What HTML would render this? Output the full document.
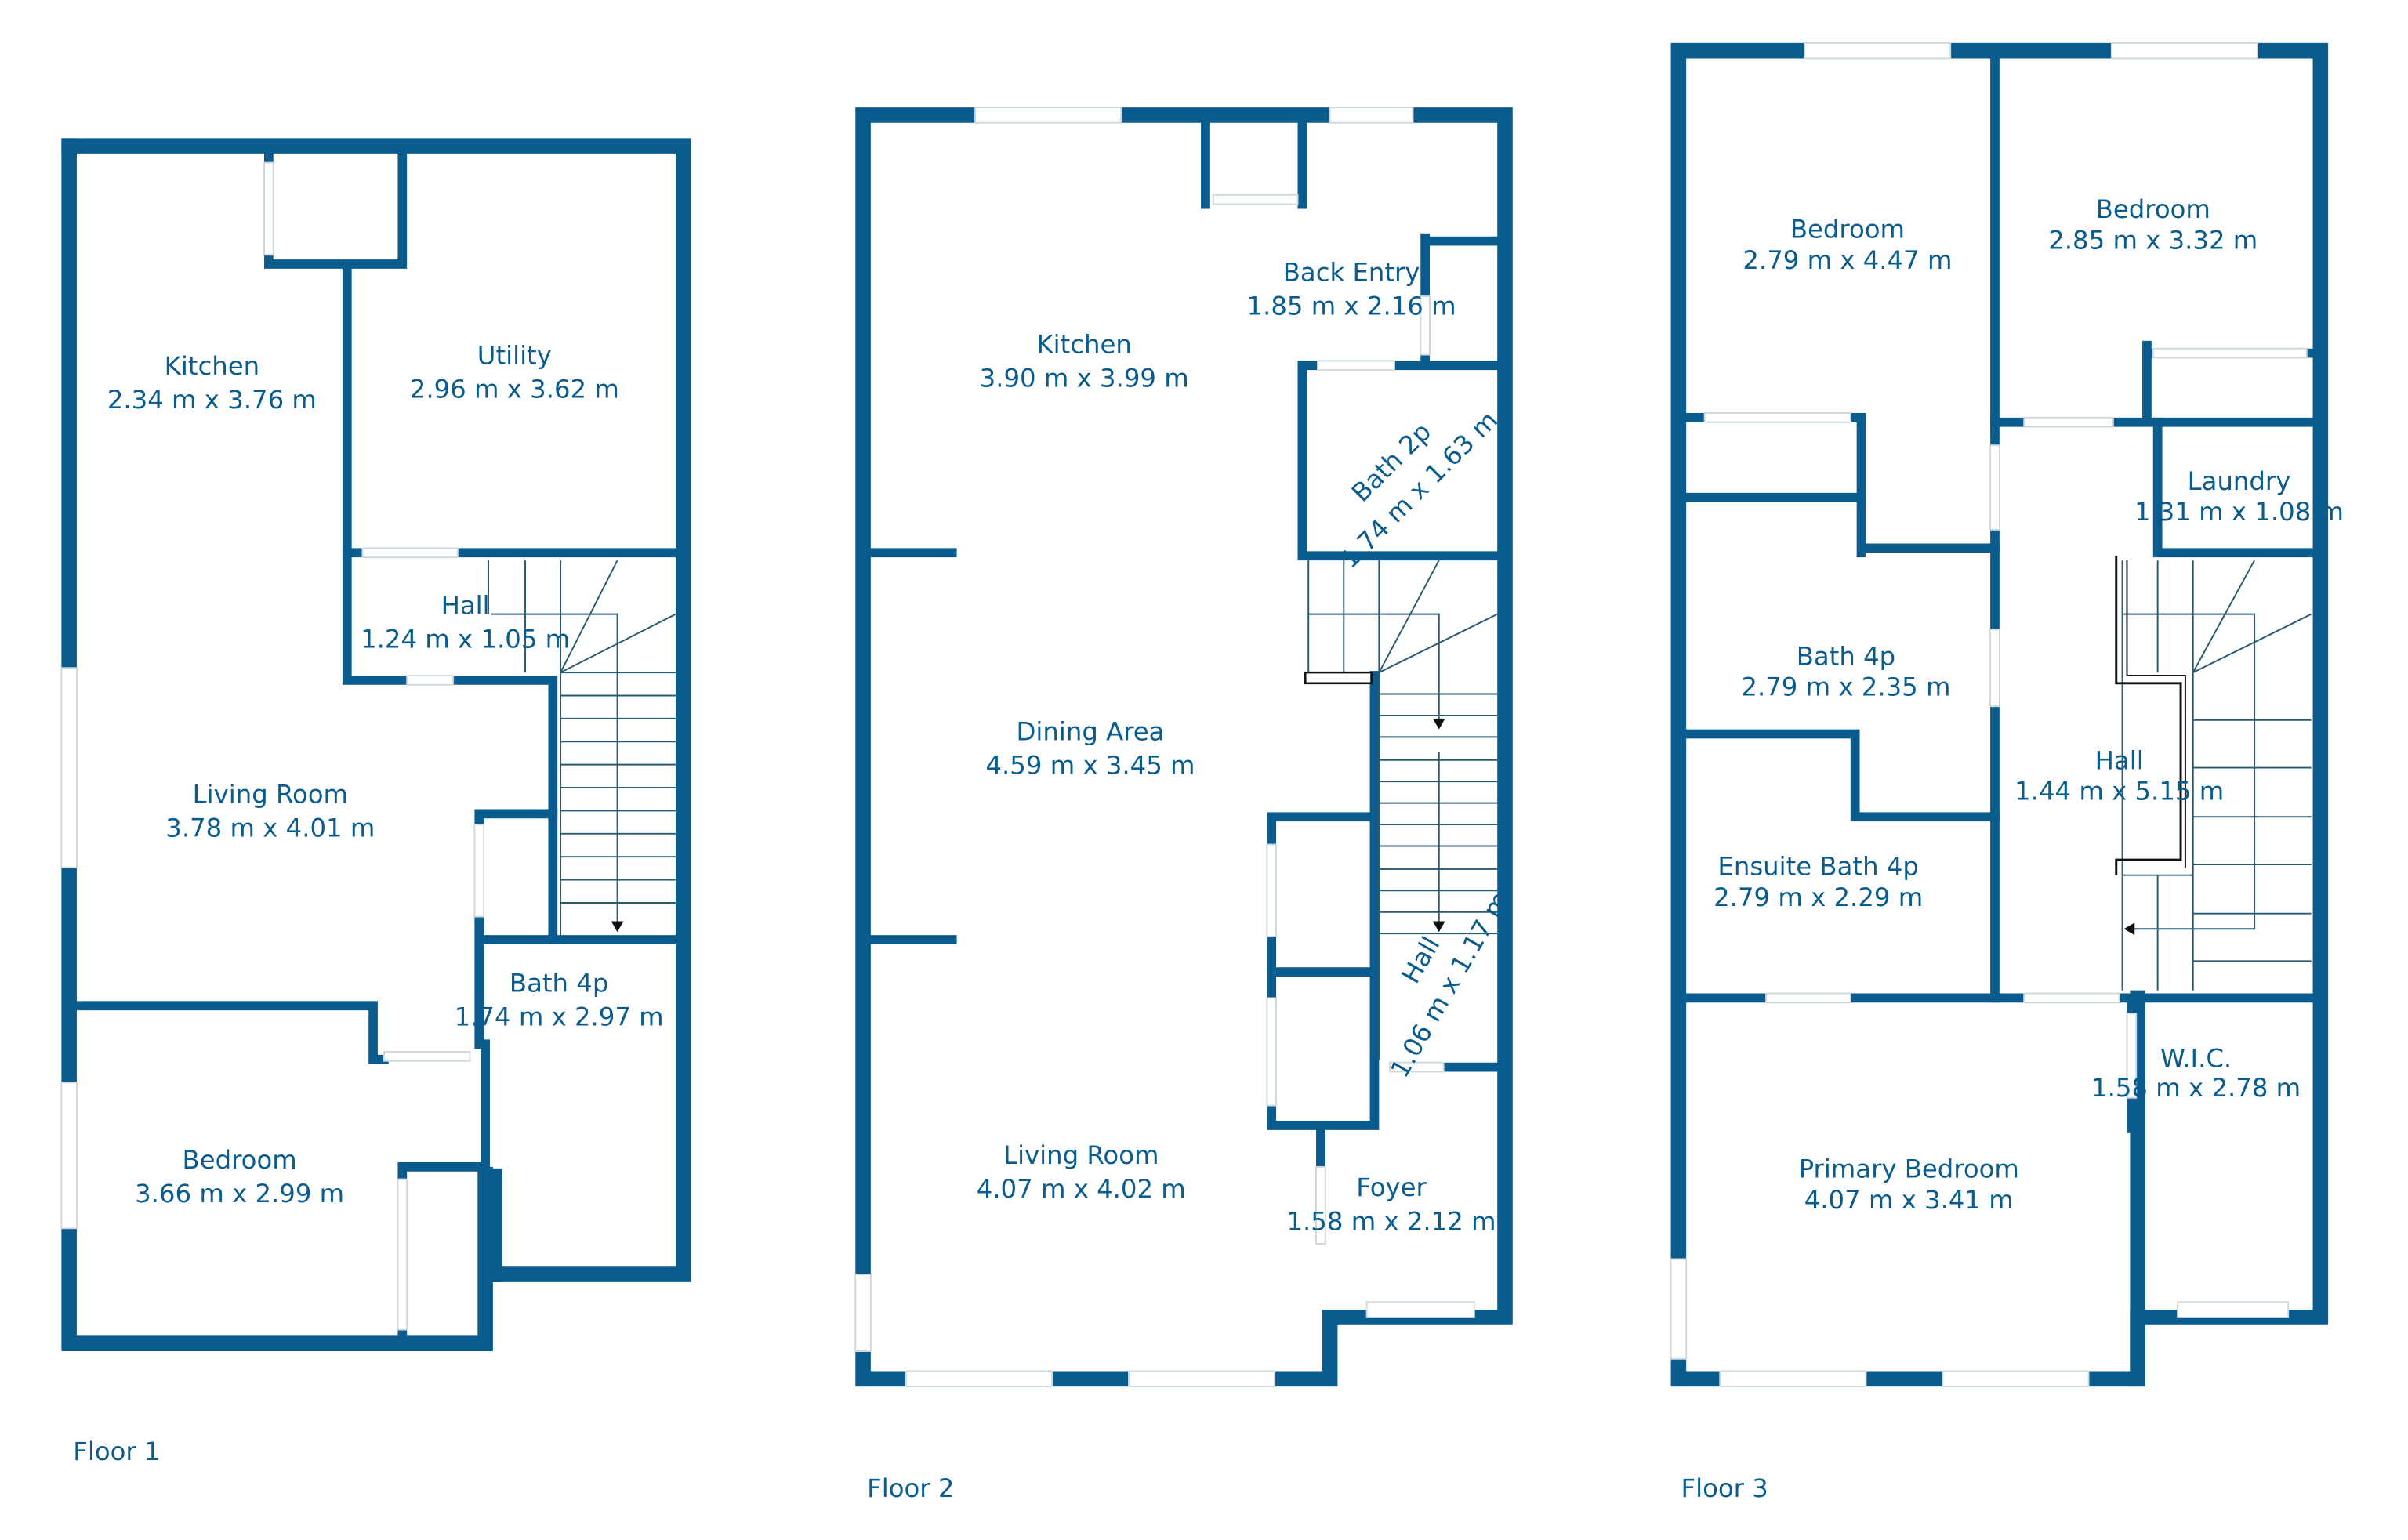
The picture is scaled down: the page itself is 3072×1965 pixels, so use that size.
<!DOCTYPE html>
<html><head><meta charset="utf-8"><style>
html,body{margin:0;padding:0;background:#fff}
svg{display:block}
text{font-family:"DejaVu Sans","Liberation Sans",sans-serif;fill:#0b5c8e;font-size:16.5px;text-anchor:middle}
</style></head><body>
<svg width="3072" height="1965" viewBox="0 0 1568 1003" preserveAspectRatio="none" xmlns="http://www.w3.org/2000/svg">
<rect width="1568" height="1003" fill="#fff"/>
<g stroke="#0b5c8e" fill="none" stroke-linecap="square">
<g stroke-width="10">
<path d="M45,95 H445 V830 H322"/>
<path d="M45,95 V875 H316 V765"/>
<path d="M320,768 V828" stroke-width="14"/>
</g>
<g stroke-width="6">
<path d="M175,100 V172 H262 V100"/>
<path d="M226,175 V443 H265 M295,443 H360 V612"/>
<path d="M226,360 H236 M298,360 H445"/>
<path d="M312,530 H360 M312,530 V612 H445 M312,612 V680 M316,680 V765"/>
<path d="M48,655 H243 V690 H250"/>
<path d="M262,762 V870 M262,760 H312"/>
</g>
<g stroke-width="10">
<path d="M562,75 H865 M920,75 H980 V858 H866 V898 H562 V75"/>
</g>
<g stroke-width="6">
<path d="M785,78 V133 M848,78 V133"/>
<path d="M928,155 V235 M928,157 H978 M848,238 H978 M848,238 V362 H978"/>
<path d="M565,360 H620 M565,612 H620"/>
<path d="M828,532 H895 M828,532 V733 H895 M828,633 H895 M895,440 V733"/>
<path d="M940,695 H978 M860,735 V760"/>
</g>
<g stroke-width="10">
<path d="M1093,33 H1511 V858 H1392 V898 H1093 V33"/>
<path d="M1392,650 V898"/>
</g>
<g stroke-width="6">
<path d="M1299,36 V650"/>
<path d="M1096,272 H1212 V360 M1096,324 H1212 M1212,357 H1299"/>
<path d="M1299,275 H1511 M1398,225 V275 M1398,230 H1505"/>
<path d="M1405,275 V360 H1508"/>
<path d="M1096,478 H1208 V532 H1299"/>
<path d="M1096,650 H1508"/>
<path d="M1388,650 V735"/>
</g>
</g>
<g fill="#fff" stroke="#cfd8dd" stroke-width="1">
<rect x="40" y="435" width="10" height="130"/><rect x="40" y="705" width="10" height="95"/>
<rect x="172" y="106" width="6" height="60"/>
<rect x="236" y="357" width="62" height="6"/><rect x="265" y="440" width="30" height="6"/>
<rect x="309" y="537" width="6" height="60"/><rect x="250" y="685" width="56" height="6"/>
<rect x="259" y="768" width="6" height="98"/>
<rect x="635" y="70" width="95" height="10"/><rect x="866" y="70" width="54" height="10"/>
<rect x="790" y="127" width="55" height="6"/><rect x="925" y="193" width="6" height="38"/>
<rect x="858" y="235" width="50" height="6"/>
<rect x="557" y="830" width="10" height="50"/>
<rect x="590" y="893" width="95" height="10"/><rect x="735" y="893" width="95" height="10"/>
<rect x="890" y="848" width="70" height="10"/>
<rect x="825" y="550" width="6" height="60"/><rect x="825" y="650" width="6" height="70"/>
<rect x="905" y="692" width="35" height="6"/><rect x="857" y="760" width="6" height="50"/>
<rect x="1175" y="28" width="95" height="10"/><rect x="1375" y="28" width="95" height="10"/>
<rect x="1110" y="269" width="95" height="6"/><rect x="1318" y="272" width="58" height="6"/>
<rect x="1296" y="290" width="6" height="55"/><rect x="1296" y="410" width="6" height="50"/>
<rect x="1150" y="647" width="55" height="6"/><rect x="1318" y="647" width="62" height="6"/>
<rect x="1385" y="660" width="6" height="55"/><rect x="1402" y="227" width="100" height="6"/>
<rect x="1088" y="820" width="10" height="65"/>
<rect x="1120" y="893" width="95" height="10"/><rect x="1265" y="893" width="95" height="10"/>
<rect x="1418" y="848" width="72" height="10"/>
</g>
<g stroke="#2a5a70" stroke-width="1" fill="none">
<path d="M365,365 V610 M365,438 H440 M318,365 V400 M342,365 V438 M365,438 L402,365 M365,438 L440,400 M320,400 H402 V605"/>
<path d="M365,453H440M365,468H440M365,483H440M365,498H440M365,513H440M365,528H440M365,543H440M365,558H440M365,573H440M365,588H440"/>
<path d="M852,365 V438 M875,365 V438 M898,365 V690 M898,438 L937,365 M898,438 L975,400 M852,400 H937 V470 M937,490 V605"/>
<path d="M898,452H975M898,466H975M898,480H975M898,495H975M898,509H975M898,523H975M898,537H975M898,551H975M898,566H975M898,580H975M898,594H975M898,608H975"/>
<path d="M1382,365 V645 M1405,365 V438 M1428,365 V645 M1405,570 V645 M1428,438 L1468,365 M1428,438 L1505,400 M1382,400 H1468 V605 H1390"/>
<path d="M1428,469H1505M1428,500H1505M1428,532H1505M1428,563H1505M1428,595H1505M1428,626H1505M1382,570H1428"/>
<path d="M1378,362 V445 H1420 V560 H1378 V570" stroke="#111" stroke-width="1.5"/>
<path d="M1385,365 V440 H1423 V565" stroke="#111"/>
<path d="M850,438 H893 V445 H850Z" stroke="#111" stroke-width="1.3" fill="#fff"/>
</g>
<g fill="#111">
<path d="M398,600 L406,600 L402,607Z"/>
<path d="M933,468 L941,468 L937,475Z"/><path d="M933,600 L941,600 L937,607Z"/>
<path d="M1390,601 L1390,609 L1383,605Z"/>
</g>
<text x="138" y="244">Kitchen</text><text x="138" y="266">2.34 m x 3.76 m</text>
<text x="335" y="237">Utility</text><text x="335" y="259">2.96 m x 3.62 m</text>
<text x="303" y="400">Hall</text><text x="303" y="422">1.24 m x 1.05 m</text>
<text x="176" y="523">Living Room</text><text x="176" y="545">3.78 m x 4.01 m</text>
<text x="364" y="646">Bath 4p</text><text x="364" y="668">1.74 m x 2.97 m</text>
<text x="156" y="761">Bedroom</text><text x="156" y="783">3.66 m x 2.99 m</text>
<text x="76" y="951">Floor 1</text>
<text x="706" y="230">Kitchen</text><text x="706" y="252">3.90 m x 3.99 m</text>
<text x="880" y="183">Back Entry</text><text x="880" y="205">1.85 m x 2.16 m</text>
<text x="910" y="305" transform="rotate(-45 910 305)">Bath 2p</text><text x="918" y="313" transform="rotate(-45 918 313)" dy="14">1.74 m x 1.63 m</text>
<text x="710" y="482">Dining Area</text><text x="710" y="504">4.59 m x 3.45 m</text>
<text x="704" y="758">Living Room</text><text x="704" y="780">4.07 m x 4.02 m</text>
<text x="930" y="628" transform="rotate(-60 930 628)">Hall</text><text x="942" y="640" transform="rotate(-60 942 640)" dy="8">1.06 m x 1.17 m</text>
<text x="906" y="779">Foyer</text><text x="906" y="801">1.58 m x 2.12 m</text>
<text x="593" y="975">Floor 2</text>
<text x="1203" y="155">Bedroom</text><text x="1203" y="175">2.79 m x 4.47 m</text>
<text x="1402" y="142">Bedroom</text><text x="1402" y="162">2.85 m x 3.32 m</text>
<text x="1458" y="319">Laundry</text><text x="1458" y="339">1.31 m x 1.08 m</text>
<text x="1202" y="433">Bath 4p</text><text x="1202" y="453">2.79 m x 2.35 m</text>
<text x="1380" y="501">Hall</text><text x="1380" y="521">1.44 m x 5.15 m</text>
<text x="1184" y="570">Ensuite Bath 4p</text><text x="1184" y="590">2.79 m x 2.29 m</text>
<text x="1430" y="695">W.I.C.</text><text x="1430" y="714">1.58 m x 2.78 m</text>
<text x="1243" y="767">Primary Bedroom</text><text x="1243" y="787">4.07 m x 3.41 m</text>
<text x="1123" y="975">Floor 3</text>
</svg>
</body></html>
